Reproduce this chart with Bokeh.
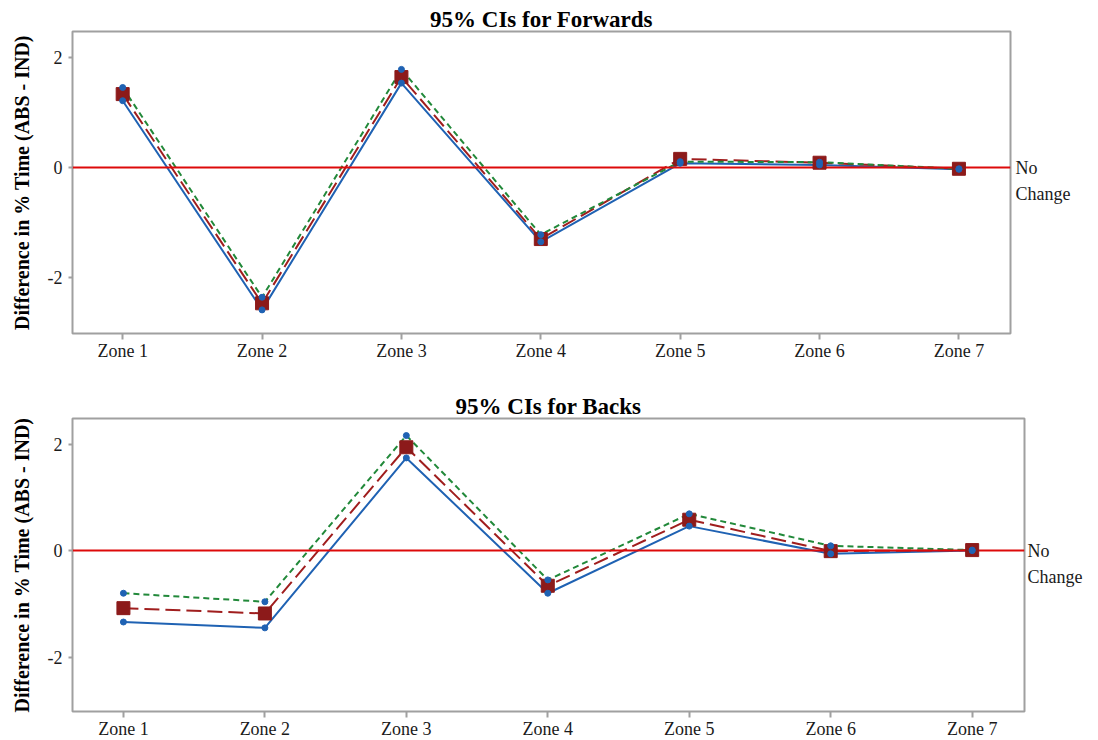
from bokeh.plotting import figure
from bokeh.layouts import column
from bokeh.models import FixedTicker, LinearAxis, ColumnDataSource
from bokeh.embed import file_html
from bokeh.resources import INLINE

zones = ["Zone 1", "Zone 2", "Zone 3", "Zone 4", "Zone 5", "Zone 6", "Zone 7"]
zone_pos = [1, 2, 3, 4, 5, 6, 7]
y_ticks = [-2, 0, 2]
y_tick_labels = ["-2", "0", "2"]

fwd_lower = [1.22, -2.59, 1.54, -1.35, 0.08, 0.05, -0.03]
fwd_mean = [1.34, -2.47, 1.65, -1.30, 0.16, 0.09, -0.02]
fwd_upper = [1.46, -2.36, 1.79, -1.22, 0.11, 0.10, -0.02]

back_lower = [-1.34, -1.45, 1.74, -0.80, 0.46, -0.06, 0.00]
back_mean = [-1.08, -1.18, 1.94, -0.66, 0.58, -0.01, 0.01]
back_upper = [-0.80, -0.96, 2.16, -0.55, 0.69, 0.09, 0.01]

SERIF = "Liberation Serif"
BLUE = "#1f62b3"
DRED = "#a01e1e"
SQ = "#8c1a1a"
GREEN = "#22893a"
ZRED = "#dd0a0a"
FRAME = "#a0a0a0"


def make(title, lower, mean, upper, fl, fw, fr, ft, fh, fb, no_off, t_off):
    p = figure(frame_width=fw, frame_height=fh,
               min_border_left=fl, min_border_right=fr,
               min_border_top=ft, min_border_bottom=fb,
               x_range=(0.64, 7.37), y_range=(-3.02, 2.48),
               output_backend="svg", toolbar_location=None,
               background_fill_color="white", border_fill_color="white")
    p.title.text = title
    p.title.text_font = SERIF
    p.title.text_font_size = "23px"
    p.title.text_font_style = "bold"
    p.title.text_color = "black"
    p.title.align = "center"
    p.title.offset = t_off
    p.title.standoff = 0
    p.outline_line_color = FRAME
    p.outline_line_width = 2
    p.xgrid.visible = False
    p.ygrid.visible = False

    p.xaxis.ticker = FixedTicker(ticks=zone_pos)
    p.xaxis.major_label_overrides = {z: lab for z, lab in zip(zone_pos, zones)}
    p.yaxis.ticker = FixedTicker(ticks=y_ticks)
    p.yaxis.major_label_overrides = {t: lab for t, lab in zip(y_ticks, y_tick_labels)}
    for ax in (p.xaxis, p.yaxis):
        ax.axis_line_color = None
        ax.major_tick_line_color = FRAME
        ax.major_tick_line_width = 2
        ax.major_tick_in = 0
        ax.minor_tick_line_color = None
        ax.major_label_text_font = SERIF
        ax.major_label_text_font_size = "18px"
        ax.major_label_text_color = "#1a1a1a"
    p.xaxis.major_tick_out = 6
    p.xaxis.major_label_standoff = 1
    p.yaxis.major_tick_out = 4
    p.yaxis.major_label_standoff = 6
    p.yaxis.axis_label = "Difference in % Time (ABS - IND)"
    p.yaxis.axis_label_text_font = SERIF
    p.yaxis.axis_label_text_font_size = "20px"
    p.yaxis.axis_label_text_font_style = "bold"
    p.yaxis.axis_label_text_color = "black"
    p.yaxis.axis_label_standoff = 12

    right = LinearAxis(ticker=FixedTicker(ticks=[0]),
                       major_label_overrides={0: "\nNo\nChange"},
                       axis_line_color=None, major_tick_line_color=None,
                       minor_tick_line_color=None,
                       major_tick_out=0, major_tick_in=0,
                       major_label_standoff=no_off,
                       major_label_text_font=SERIF,
                       major_label_text_font_size="18px",
                       major_label_text_line_height=1.3,
                       major_label_text_color="#1a1a1a")
    p.add_layout(right, "right")

    src = ColumnDataSource(dict(x=zone_pos, lo=lower, m=mean, hi=upper))
    p.line("x", "lo", source=src, line_color=BLUE, line_width=2)
    p.line("x", "m", source=src, line_color=DRED, line_width=2, line_dash="15 6")
    p.line("x", "hi", source=src, line_color=GREEN, line_width=2, line_dash="6 4")
    p.hspan(y=[0], line_color=ZRED, line_width=2)
    p.scatter("x", "m", source=src, marker="square", size=13,
              fill_color=SQ, line_color=SQ)
    p.scatter("x", "lo", source=src, marker="circle", size=6,
              fill_color=BLUE, line_color=BLUE)
    p.scatter("x", "hi", source=src, marker="circle", size=6,
              fill_color=BLUE, line_color=BLUE)
    return p


p1 = make("95% CIs for Forwards", fwd_lower, fwd_mean, fwd_upper,
          68, 938, 66, 31, 302, 38, 5, -4)
p2 = make("95% CIs for Backs", back_lower, back_mean, back_upper,
          72, 952, 56, 47, 293, 22, 3, -15)

layout = column(p1, p2, spacing=0)
open("out.html", "w").write(file_html(layout, INLINE))
